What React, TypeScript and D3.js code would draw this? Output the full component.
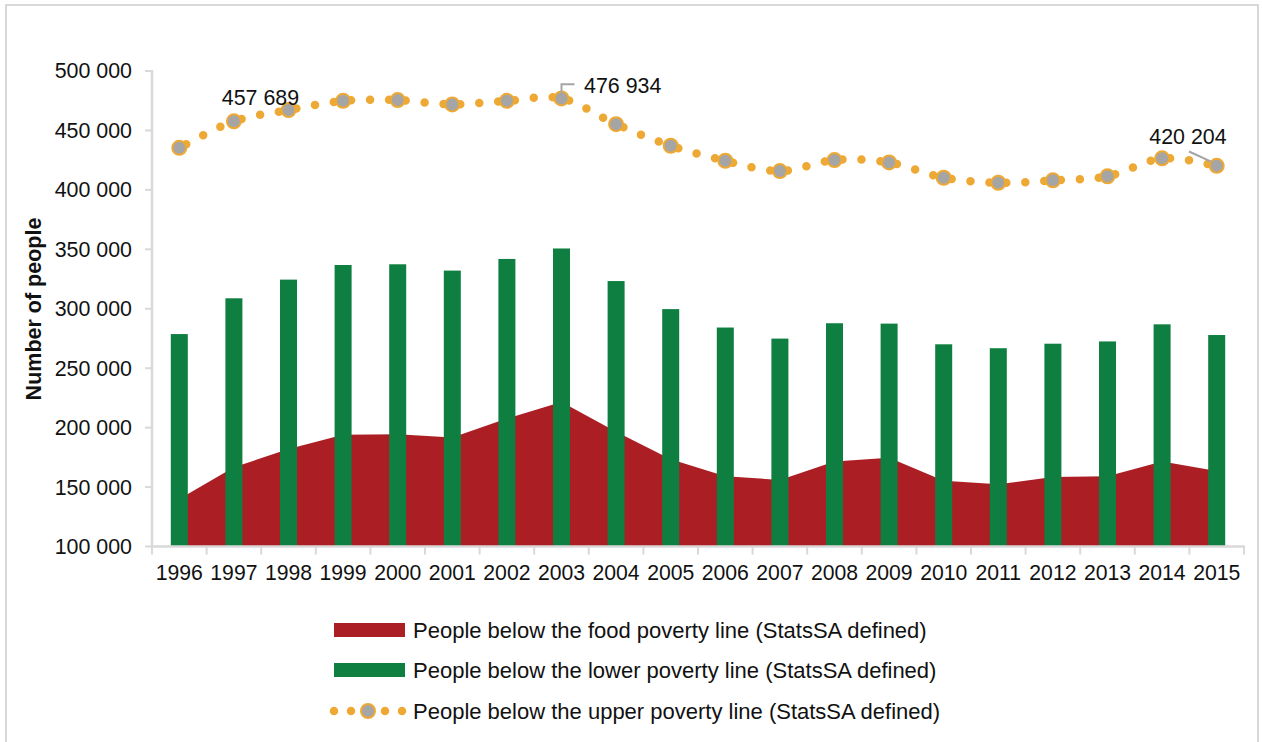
import React from 'react';
import * as d3 from 'd3';

const years = ['1996','1997','1998','1999','2000','2001','2002','2003','2004','2005','2006','2007','2008','2009','2010','2011','2012','2013','2014','2015'];
const foodPoverty = [140000,166600,182000,194100,194500,191600,207700,221600,196600,173500,159100,156000,171500,174600,155300,152400,158400,159000,171400,163500];
const lowerPoverty = [278700,308800,324500,336800,337400,332100,341900,350700,323300,299700,284200,274900,287800,287500,270100,266800,270600,272500,286900,277900];
const upperPoverty = [435400,457689,467100,474900,475500,471900,474900,476934,455300,437100,424500,415800,425100,423100,410200,406000,408000,411400,426500,420204];
const yTicks = [100000,150000,200000,250000,300000,350000,400000,450000,500000];
const legendLabels = [
  'People below the food poverty line (StatsSA defined)',
  'People below the lower poverty line (StatsSA defined)',
  'People below the upper poverty line (StatsSA defined)',
];

const RED = '#ab1f24';
const GREEN = '#0e7f41';
const ORANGE = '#eea935';
const GREY = '#a5a5a5';
const AXIS = '#d9d9d9';
const FONT = '"Liberation Sans", Arial, sans-serif';

const fmt = (v: number) => {
  const s = Math.round(v).toString();
  return s.replace(/\B(?=(\d{3})+(?!\d))/g, ' ');
};

export default function App() {
  const W = 1262, H = 742;
  const x = d3.scaleBand<string>().domain(years).range([152, 1244]).paddingInner(0).paddingOuter(0);
  const y = d3.scaleLinear().domain([100000, 500000]).range([546.5, 71]);
  const cx = (i: number) => (x(years[i]) as number) + x.bandwidth() / 2;
  const barW = 17;

  const area = d3.area<number>()
    .x((_, i) => cx(i))
    .y0(y(100000))
    .y1((d) => y(d));

  const pts: [number, number][] = upperPoverty.map((v, i) => [cx(i), y(v)]);
  const k = 1 / 6;
  const segs: string[] = [];
  for (let i = 0; i < pts.length - 1; i++) {
    const p0 = pts[Math.max(0, i - 1)];
    const p1 = pts[i];
    const p2 = pts[i + 1];
    const p3 = pts[Math.min(pts.length - 1, i + 2)];
    const c1: [number, number] = [p1[0] + (p2[0] - p0[0]) * k, p1[1] + (p2[1] - p0[1]) * k];
    const c2: [number, number] = [p2[0] - (p3[0] - p1[0]) * k, p2[1] - (p3[1] - p1[1]) * k];
    segs.push(`M${p1[0]},${p1[1]}C${c1[0]},${c1[1]} ${c2[0]},${c2[1]} ${p2[0]},${p2[1]}`);
  }

  const i97 = years.indexOf('1997');
  const i03 = years.indexOf('2003');
  const i15 = years.indexOf('2015');

  const legendY = [630, 670, 711];

  return (
    <svg width={W} height={H} style={{ position: 'absolute', left: 0, top: 0, background: '#fff' }} fontFamily={FONT}>
      <rect x={0} y={0} width={W} height={H} fill="#fff" />
      <rect x={6} y={5} width={1252} height={800} fill="none" stroke={AXIS} strokeWidth={2} />

      {/* area */}
      <path d={area(foodPoverty) || ''} fill={RED} />

      {/* bars */}
      {lowerPoverty.map((v, i) => (
        <rect key={years[i]} x={cx(i) - barW / 2} y={y(v)} width={barW} height={y(100000) - y(v)} fill={GREEN} />
      ))}

      {/* axes */}
      <line x1={152} x2={152} y1={y(500000) - 1} y2={y(100000)} stroke={AXIS} strokeWidth={2.5} />
      {yTicks.map((t) => (
        <g key={t}>
          <line x1={145} x2={152} y1={y(t)} y2={y(t)} stroke={AXIS} strokeWidth={2} />
          <text x={132} y={y(t)} dy="0.35em" textAnchor="end" fontSize={21.4} fill="#111">{fmt(t)}</text>
        </g>
      ))}
      <line x1={151} x2={1245} y1={y(100000)} y2={y(100000)} stroke={AXIS} strokeWidth={2.5} />
      {years.map((yr) => (
        <line key={'t' + yr} x1={x(yr) as number} x2={x(yr) as number} y1={y(100000)} y2={y(100000) + 8} stroke={AXIS} strokeWidth={2} />
      ))}
      <line x1={1244} x2={1244} y1={y(100000)} y2={y(100000) + 8} stroke={AXIS} strokeWidth={2} />
      {years.map((yr, i) => (
        <text key={'l' + yr} x={cx(i)} y={580} textAnchor="middle" fontSize={21.2} fill="#111">{yr}</text>
      ))}
      <text transform={`translate(41,309) rotate(-90)`} textAnchor="middle" fontSize={21.5} fontWeight="bold" fill="#111">Number of people</text>

      {/* upper poverty dotted line */}
      {segs.map((d, i) => (
        <path key={'s' + i} d={d} fill="none" stroke={ORANGE} strokeWidth={8.5} strokeLinecap="round" strokeDasharray="0 19" strokeDashoffset={11} />
      ))}
      {pts.map((p, i) => (
        <circle key={'m' + i} cx={p[0]} cy={p[1]} r={7} fill={GREY} stroke={ORANGE} strokeWidth={2} />
      ))}

      {/* annotations */}
      <text x={260.5} y={105} textAnchor="middle" fontSize={21.4} fill="#111">{fmt(upperPoverty[i97])}</text>
      <polyline points={`${cx(i03)},${y(upperPoverty[i03]) - 5} ${cx(i03)},84.3 ${cx(i03) + 13},84.3`} fill="none" stroke={GREY} strokeWidth={2} />
      <text x={584} y={93} fontSize={21.4} fill="#111">{fmt(upperPoverty[i03])}</text>
      <line x1={1189} y1={151.5} x2={cx(i15) - 5} y2={y(upperPoverty[i15]) - 4} stroke={GREY} strokeWidth={2} />
      <text x={1188} y={143.5} textAnchor="middle" fontSize={21.4} fill="#111">{fmt(upperPoverty[i15])}</text>

      {/* legend */}
      <rect x={334} y={legendY[0] - 7} width={71} height={14} fill={RED} />
      <rect x={334} y={legendY[1] - 7} width={71} height={14} fill={GREEN} />
      <line x1={334} x2={403} y1={legendY[2]} y2={legendY[2]} stroke={ORANGE} strokeWidth={8.5} strokeLinecap="round" strokeDasharray="0 17" />
      <circle cx={368} cy={legendY[2]} r={7} fill={GREY} stroke={ORANGE} strokeWidth={2} />
      {legendLabels.map((t, i) => (
        <text key={t} x={413} y={legendY[i]} dy="0.35em" fontSize={22} fill="#111">{t}</text>
      ))}
    </svg>
  );
}
